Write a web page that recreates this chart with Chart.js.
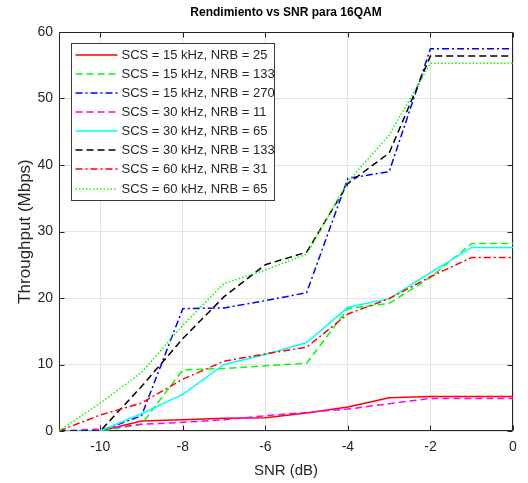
<!DOCTYPE html>
<html>
<head>
<meta charset="utf-8">
<title>Rendimiento vs SNR para 16QAM</title>
<script src="https://cdn.jsdelivr.net/npm/chart.js@4/dist/chart.umd.min.js"></script>
<style>
  html, body { margin: 0; padding: 0; background: #ffffff; }
  #wrap { width: 528px; height: 483px; position: relative; }
</style>
</head>
<body>
<div id="wrap"><canvas id="chart" width="528" height="483"></canvas></div>
<script>
// SNR sweep (dB)
const snr = [-11, -10, -9, -8, -7, -6, -5, -4, -3, -2, -1, 0];

// Throughput (Mbps) per configuration
const scs15_nrb25  = [0, 0, 1.5, 1.7, 1.9, 2.0, 2.7, 3.6, 5.0, 5.2, 5.2, 5.2];
const scs15_nrb133 = [0, 0, 1.0, 9.2, 9.4, 9.8, 10.2, 18.4, 19.2, 23.1, 28.2, 28.2];
const scs15_nrb270 = [0, 0, 2.3, 18.4, 18.5, 19.6, 20.8, 38.0, 39.0, 57.5, 57.5, 57.5];
const scs30_nrb11  = [0, 0.3, 1.0, 1.3, 1.7, 2.3, 2.8, 3.3, 4.1, 4.9, 4.9, 4.9];
const scs30_nrb65  = [0, 0, 2.6, 5.5, 10.0, 11.5, 13.3, 18.6, 19.9, 23.8, 27.6, 27.6];
const scs30_nrb133 = [0, 0, 6.7, 13.9, 20.2, 25.0, 26.9, 37.2, 41.8, 56.4, 56.4, 56.4];
const scs60_nrb31  = [0, 2.4, 4.2, 7.8, 10.5, 11.6, 12.6, 17.6, 19.9, 23.2, 26.1, 26.1];
const scs60_nrb65  = [0, 4.2, 8.8, 15.9, 22.2, 24.2, 26.6, 37.5, 44.5, 55.3, 55.3, 55.3];

const seriesLabels = [
  'SCS = 15 kHz, NRB = 25',
  'SCS = 15 kHz, NRB = 133',
  'SCS = 15 kHz, NRB = 270',
  'SCS = 30 kHz, NRB = 11',
  'SCS = 30 kHz, NRB = 65',
  'SCS = 30 kHz, NRB = 133',
  'SCS = 60 kHz, NRB = 31',
  'SCS = 60 kHz, NRB = 65'
];
const seriesValues = [scs15_nrb25, scs15_nrb133, scs15_nrb270, scs30_nrb11,
                      scs30_nrb65, scs30_nrb133, scs60_nrb31, scs60_nrb65];

const xTicks = [-10, -8, -6, -4, -2, 0];
const yTicks = [0, 10, 20, 30, 40, 50, 60];

// line styles: colour + dash pattern
const SOLID = [], DASHED = [7, 4], DASHDOT = [7, 3, 2, 3], DOTTED = [1.5, 2];
const styles = [
  { color: '#ff0000', dash: SOLID },
  { color: '#00ff00', dash: DASHED },
  { color: '#0000ff', dash: DASHDOT },
  { color: '#ff00ff', dash: DASHED },
  { color: '#00ffff', dash: SOLID },
  { color: '#000000', dash: DASHED },
  { color: '#ff0000', dash: DASHDOT },
  { color: '#00ff00', dash: DOTTED }
];

const FONT = '"Liberation Sans", Arial, Helvetica, sans-serif';
const INK = '#262626';

const datasets = seriesValues.map((vals, i) => ({
  label: seriesLabels[i],
  data: snr.map((x, k) => ({ x: x, y: vals[k] })),
  borderColor: styles[i].color,
  backgroundColor: styles[i].color,
  borderDash: styles[i].dash,
  borderWidth: 1.5,
  pointRadius: 0,
  tension: 0,
  fill: false,
  order: seriesValues.length - i   // later series drawn on top
}));

// axes box with inward tick marks on all four sides
const axesBox = {
  id: 'axesBox',
  beforeDatasetsDraw(chart) {
    const { ctx, chartArea: a, scales: { x, y } } = chart;
    const L = Math.round(a.left) + 0.5, R = Math.round(a.right) - 0.5;
    const T = Math.round(a.top) + 0.5, B = Math.round(a.bottom) - 0.5;
    ctx.save();
    ctx.strokeStyle = INK;
    ctx.lineWidth = 1;
    ctx.beginPath();
    ctx.rect(L, T, R - L, B - T);
    const tl = 5;
    xTicks.forEach(v => {
      const px = Math.round(x.getPixelForValue(v)) + 0.5;
      ctx.moveTo(px, B); ctx.lineTo(px, B - tl);
      ctx.moveTo(px, T); ctx.lineTo(px, T + tl);
    });
    yTicks.forEach(v => {
      const py = Math.round(y.getPixelForValue(v)) + 0.5;
      ctx.moveTo(L, py); ctx.lineTo(L + tl, py);
      ctx.moveTo(R, py); ctx.lineTo(R - tl, py);
    });
    ctx.stroke();
    ctx.restore();
  }
};

// boxed legend in the upper-left corner of the plot
const innerLegend = {
  id: 'innerLegend',
  afterDatasetsDraw(chart) {
    const { ctx, chartArea: a } = chart;
    const left = Math.round(a.left) + 12.5, top = Math.round(a.top) + 11.5;
    const w = 203, h = 157, pitch = 19.1, first = 11.3;
    ctx.save();
    ctx.fillStyle = '#ffffff';
    ctx.fillRect(left, top, w, h);
    ctx.strokeStyle = '#3a3a3a';
    ctx.lineWidth = 1;
    ctx.strokeRect(left, top, w, h);
    ctx.font = '13px ' + FONT;
    ctx.textBaseline = 'middle';
    ctx.textAlign = 'left';
    chart.data.datasets.forEach((ds, i) => {
      const cy = Math.round(top + first + i * pitch);
      ctx.strokeStyle = ds.borderColor;
      ctx.lineWidth = 1.5;
      ctx.setLineDash(ds.borderDash);
      ctx.beginPath();
      ctx.moveTo(left + 4, cy);
      ctx.lineTo(left + 46, cy);
      ctx.stroke();
      ctx.setLineDash([]);
      ctx.fillStyle = INK;
      ctx.fillText(ds.label, left + 50, cy + 0.5);
    });
    ctx.restore();
  }
};

new Chart(document.getElementById('chart'), {
  type: 'line',
  data: { datasets: datasets },
  plugins: [axesBox, innerLegend],
  options: {
    responsive: false,
    animation: false,
    events: [],
    layout: { padding: { left: 0, right: 15, top: 0, bottom: 0 } },
    plugins: {
      legend: { display: false },
      tooltip: { enabled: false },
      title: {
        display: true,
        text: 'Rendimiento vs SNR para 16QAM',
        fullSize: false,
        color: '#000000',
        font: { family: FONT, size: 12, weight: 'bold', lineHeight: 1.2 },
        padding: { top: 5, bottom: 12.6 }
      }
    },
    scales: {
      x: {
        type: 'linear',
        min: -11,
        max: 0,
        afterBuildTicks(scale) { scale.ticks = xTicks.map(v => ({ value: v })); },
        afterFit(scale) { scale.height = 52; },
        grid: { color: '#e3e3e3', lineWidth: 1, drawTicks: false },
        border: { display: false },
        ticks: {
          color: INK, padding: 8, maxRotation: 0, autoSkip: false,
          font: { family: FONT, size: 14 }
        },
        title: {
          display: true, text: 'SNR (dB)', color: INK,
          font: { family: FONT, size: 15, lineHeight: 1.2 },
          padding: { top: 0, bottom: 3 }
        }
      },
      y: {
        type: 'linear',
        min: 0,
        max: 60,
        afterBuildTicks(scale) { scale.ticks = yTicks.map(v => ({ value: v })); },
        afterFit(scale) { scale.width = 59; },
        grid: { color: '#e3e3e3', lineWidth: 1, drawTicks: false },
        border: { display: false },
        ticks: {
          color: INK, padding: 6, autoSkip: false,
          font: { family: FONT, size: 14 }
        },
        title: {
          display: true, text: 'Throughput (Mbps)', color: INK,
          font: { family: FONT, size: 17, lineHeight: 1.2 },
          padding: { top: 15, bottom: 0 }
        }
      }
    }
  }
});
</script>
</body>
</html>
